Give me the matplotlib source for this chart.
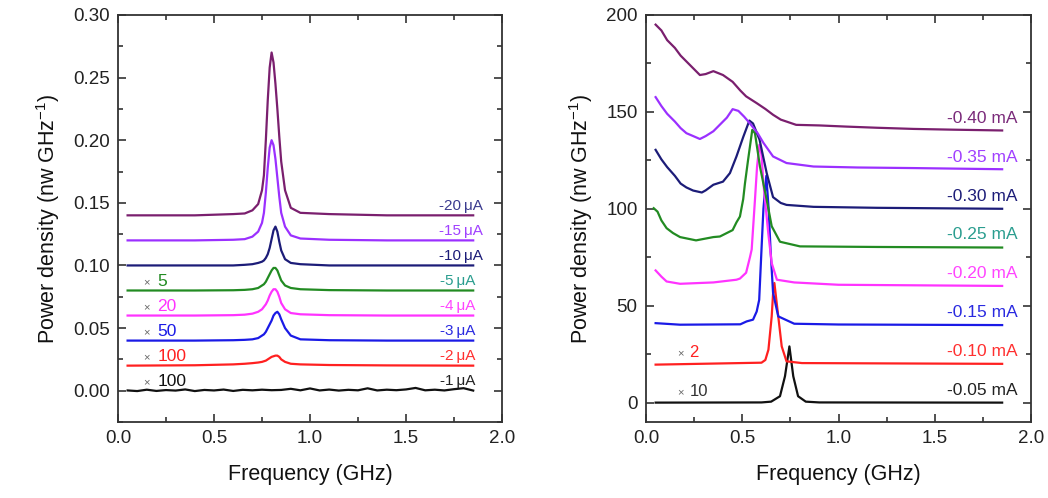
import numpy as np
import matplotlib.pyplot as plt
from matplotlib.ticker import MultipleLocator

plt.rcParams['font.family'] = ['Liberation Sans', 'DejaVu Sans']

# ---- left panel: spectra at low current (uA), common frequency grid ----
freq_left = [0.05, 0.40, 0.60, 0.66, 0.70, 0.73, 0.75, 0.76, 0.77, 0.78, 0.79, 0.80,
             0.81, 0.82, 0.83, 0.84, 0.85, 0.87, 0.90, 0.95, 1.10, 1.40, 1.85]
p_20ua = [0.140, 0.140, 0.141, 0.1415, 0.144, 0.149, 0.160, 0.172, 0.200, 0.232, 0.258, 0.270,
          0.262, 0.245, 0.225, 0.203, 0.183, 0.160, 0.146, 0.142, 0.141, 0.140, 0.140]
p_15ua = [0.120, 0.120, 0.1205, 0.121, 0.123, 0.127, 0.134, 0.142, 0.158, 0.178, 0.194, 0.200,
          0.196, 0.185, 0.170, 0.155, 0.142, 0.131, 0.124, 0.1215, 0.1205, 0.120, 0.120]
p_10ua = [0.100, 0.100, 0.100, 0.1005, 0.101, 0.102, 0.103, 0.104, 0.106, 0.109, 0.114, 0.121,
          0.128, 0.131, 0.127, 0.119, 0.112, 0.105, 0.102, 0.101, 0.100, 0.100, 0.100]
p_5ua = [0.080, 0.080, 0.0802, 0.0805, 0.081, 0.082, 0.084, 0.085, 0.087, 0.090, 0.093, 0.096,
         0.098, 0.098, 0.096, 0.092, 0.088, 0.084, 0.082, 0.081, 0.0803, 0.080, 0.080]
p_4ua = [0.060, 0.060, 0.0603, 0.0607, 0.0615, 0.063, 0.065, 0.067, 0.069, 0.072, 0.076, 0.079,
         0.081, 0.081, 0.079, 0.075, 0.070, 0.065, 0.062, 0.061, 0.0603, 0.060, 0.060]
p_3ua = [0.040, 0.040, 0.0403, 0.0406, 0.041, 0.042, 0.044, 0.045, 0.047, 0.050, 0.053, 0.056,
         0.060, 0.062, 0.063, 0.061, 0.057, 0.050, 0.044, 0.041, 0.0403, 0.040, 0.040]
p_2ua = [0.020, 0.0203, 0.021, 0.0215, 0.022, 0.0225, 0.023, 0.0235, 0.024, 0.025, 0.026, 0.027,
         0.0275, 0.028, 0.028, 0.027, 0.025, 0.023, 0.0215, 0.021, 0.0205, 0.0202, 0.020]

freq_1ua = [0.05, 0.10, 0.15, 0.20, 0.25, 0.30, 0.35, 0.40, 0.45, 0.50, 0.55, 0.60, 0.65,
            0.70, 0.75, 0.80, 0.85, 0.90, 0.95, 1.00, 1.05, 1.10, 1.15, 1.20, 1.25, 1.30,
            1.35, 1.40, 1.45, 1.50, 1.55, 1.60, 1.65, 1.70, 1.75, 1.80, 1.85]
p_1ua = [0.0002, -0.0003, 0.0008, -0.0002, 0.0005, 0.0001, 0.0010, -0.0003, 0.0006, 0.0002,
         0.0009, -0.0002, 0.0007, 0.0003, 0.0008, 0.0004, 0.0006, 0.0015, 0.0003, 0.0018,
         0.0002, 0.0009, 0.0001, 0.0007, 0.0003, 0.0019, 0.0002, 0.0008, 0.0004, 0.0010,
         0.0022, 0.0003, 0.0008, 0.0002, 0.0012, 0.0020, 0.0001]

left_curves = [p_1ua, p_2ua, p_3ua, p_4ua, p_5ua, p_10ua, p_15ua, p_20ua]
left_names = ['-1\u2009μA', '-2\u2009μA', '-3\u2009μA', '-4\u2009μA', '-5\u2009μA',
              '-10\u2009μA', '-15\u2009μA', '-20\u2009μA']
left_base = [0.00, 0.02, 0.04, 0.06, 0.08, 0.10, 0.12, 0.14]
left_colors = ['#111111', '#ff2020', '#1a1ae6', '#ff33ff', '#228b22', '#1c1c78', '#9b30ff', '#7a1f6e']
left_text_colors = ['#222222', '#ff3030', '#2a2ae0', '#ff44ff', '#2a9d8f', '#1c1c78', '#a040ff', '#3b3b8f']
left_scale = ['100', '100', '50', '20', '5', '', '', '']

# ---- right panel: spectra at higher current (mA), each with its own grid ----
f_040 = [0.05, 0.08, 0.11, 0.15, 0.18, 0.21, 0.25, 0.28, 0.31, 0.35, 0.40, 0.45, 0.49,
         0.52, 0.575, 0.62, 0.66, 0.70, 0.78, 0.90, 1.04, 1.20, 1.39, 1.60, 1.85]
p_040 = [195, 192, 187, 183, 179, 176, 172, 169, 169.5, 171, 169, 165.5, 161,
         158, 154.5, 151.5, 148.5, 146, 143.3, 143, 142.4, 141.8, 141.2, 140.8, 140.4]
f_035 = [0.05, 0.08, 0.11, 0.15, 0.18, 0.21, 0.25, 0.28, 0.31, 0.35, 0.38, 0.42, 0.45,
         0.48, 0.51, 0.54, 0.58, 0.61, 0.66, 0.73, 0.87, 1.10, 1.39, 1.85]
p_035 = [157.6, 153, 149, 145, 141.6, 139, 137.3, 136, 137.5, 140, 143, 147, 151.4,
         150.5, 147.5, 144, 139, 134, 127, 123.6, 121.8, 121.3, 121, 120.4]
f_030 = [0.05, 0.08, 0.11, 0.15, 0.18, 0.21, 0.245, 0.29, 0.31, 0.35, 0.40, 0.436, 0.47,
         0.505, 0.537, 0.556, 0.59, 0.627, 0.66, 0.70, 0.73, 0.87, 1.20, 1.85]
p_030 = [130.4, 125.5, 121.5, 117, 113, 111, 109.4, 108.4, 109.5, 112.4, 114, 118.4, 127,
         137, 145.5, 144, 135.6, 118.4, 106, 103, 102, 101, 100.5, 100]
f_025 = [0.04, 0.06, 0.08, 0.107, 0.14, 0.177, 0.26, 0.35, 0.384, 0.42, 0.45, 0.47, 0.488,
         0.505, 0.514, 0.53, 0.552, 0.566, 0.592, 0.627, 0.653, 0.696, 0.80, 1.20, 1.85]
p_025 = [100.3, 98.5, 94, 90, 87.5, 85.4, 83.7, 85.4, 85.7, 87.5, 89, 93, 96,
         105, 113, 125, 140.7, 139, 121.8, 104.6, 91, 83, 80.6, 80.3, 80]
f_020 = [0.05, 0.08, 0.107, 0.177, 0.35, 0.47, 0.488, 0.52, 0.54, 0.549, 0.566, 0.577,
         0.589, 0.60, 0.61, 0.635, 0.653, 0.68, 0.77, 1.00, 1.85]
p_020 = [68.2, 65, 62.5, 61.3, 62, 63.4, 64, 67, 75, 79, 104.6, 121.8,
         133, 128, 113, 87.5, 72, 63.4, 62, 60.8, 60.2]
f_015 = [0.05, 0.177, 0.49, 0.523, 0.556, 0.575, 0.588, 0.60, 0.61, 0.625, 0.637, 0.647,
         0.66, 0.687, 0.77, 1.00, 1.85]
p_015 = [41, 40.2, 40.4, 41.9, 42.8, 47, 53, 79, 100, 117, 100, 79,
         56.7, 44.5, 40.7, 40.3, 40]
f_010 = [0.05, 0.60, 0.62, 0.636, 0.653, 0.66, 0.667, 0.687, 0.705, 0.73, 0.81, 1.85]
p_010 = [19.6, 20.6, 22, 27.3, 44.5, 56, 61.7, 44.5, 29, 21.3, 20.4, 20]
f_005 = [0.05, 0.60, 0.65, 0.696, 0.722, 0.745, 0.765, 0.79, 0.83, 0.90, 1.85]
p_005 = [0, 0.1, 0.5, 3.3, 13.6, 29, 13.6, 3.3, 0.5, 0.1, 0]

right_freqs = [f_005, f_010, f_015, f_020, f_025, f_030, f_035, f_040]
right_curves = [p_005, p_010, p_015, p_020, p_025, p_030, p_035, p_040]
right_names = ['-0.05 mA', '-0.10 mA', '-0.15 mA', '-0.20 mA', '-0.25 mA', '-0.30 mA', '-0.35 mA', '-0.40 mA']
right_base = [0, 20, 40, 60, 80, 100, 120, 140]
right_colors = ['#111111', '#ff2020', '#1a1ae6', '#ff33ff', '#228b22', '#1c1c78', '#9b30ff', '#7a1f6e']
right_text_colors = ['#222222', '#ff3030', '#2a2ae0', '#ff44ff', '#2a9d8f', '#1c1c78', '#a040ff', '#7a2a7a']
right_scale = ['10', '2', '', '', '', '', '', '']

ylabel = 'Power density (nw GHz$^{\\mathregular{-1}}$)'


def style_axes(ax, ymajor, yminor):
    ax.set_xlim(0, 2.0)
    ax.xaxis.set_major_locator(MultipleLocator(0.5))
    ax.xaxis.set_minor_locator(MultipleLocator(0.25))
    ax.yaxis.set_major_locator(MultipleLocator(ymajor))
    ax.yaxis.set_minor_locator(MultipleLocator(yminor))
    ax.tick_params(which='both', direction='in', top=True, right=True, labelsize=13.5,
                   width=1.1, colors='#222222', pad=6)
    ax.tick_params(which='major', length=6)
    ax.tick_params(which='minor', length=3.5)
    for s in ax.spines.values():
        s.set_linewidth(1.3)
        s.set_color('#333333')
    ax.set_xlabel('Frequency (GHz)', fontsize=15.5, labelpad=12, color='#111111')
    ax.set_ylabel(ylabel, fontsize=15.5, labelpad=8, color='#111111')


fig = plt.figure(figsize=(10.48, 4.98), dpi=100)
ax1 = fig.add_axes([0.1126, 0.1526, 0.3664, 0.8174])
ax2 = fig.add_axes([0.6164, 0.1526, 0.3674, 0.8174])

# left
for i in range(len(left_curves)):
    fx = freq_1ua if i == 0 else freq_left
    ax1.plot(fx, left_curves[i], color=left_colors[i], lw=1.6)
    xr = 1.90 if i >= 5 else 1.86
    ax1.text(xr, left_base[i] + 0.0075, left_names[i], color=left_text_colors[i],
             fontsize=11, ha='right', va='center')
    if left_scale[i]:
        ax1.text(0.13, left_base[i] + 0.0068, '×', color='#666666', fontsize=8,
                 ha='left', va='center')
        ax1.text(0.205, left_base[i] + 0.0075, left_scale[i], color=left_colors[i],
                 fontsize=12.5, ha='left', va='center')
ax1.set_ylim(-0.025, 0.30)
style_axes(ax1, 0.05, 0.025)
ax1.yaxis.set_major_formatter(plt.FormatStrFormatter('%.2f'))

# right
for i in range(len(right_curves)):
    ax2.plot(right_freqs[i], right_curves[i], color=right_colors[i], lw=1.6)
    ax2.text(1.93, right_base[i] + 6.5, right_names[i], color=right_text_colors[i],
             fontsize=12.5, ha='right', va='center')
    if right_scale[i]:
        ax2.text(0.16, right_base[i] + 5.3, '×', color='#666666', fontsize=8,
                 ha='left', va='center')
        ax2.text(0.225, right_base[i] + 5.8, right_scale[i],
                 color='#333333' if i == 0 else right_colors[i],
                 fontsize=12, ha='left', va='center')
ax2.set_ylim(-10, 200)
style_axes(ax2, 50, 25)

fig.savefig('out.png', dpi=100)
